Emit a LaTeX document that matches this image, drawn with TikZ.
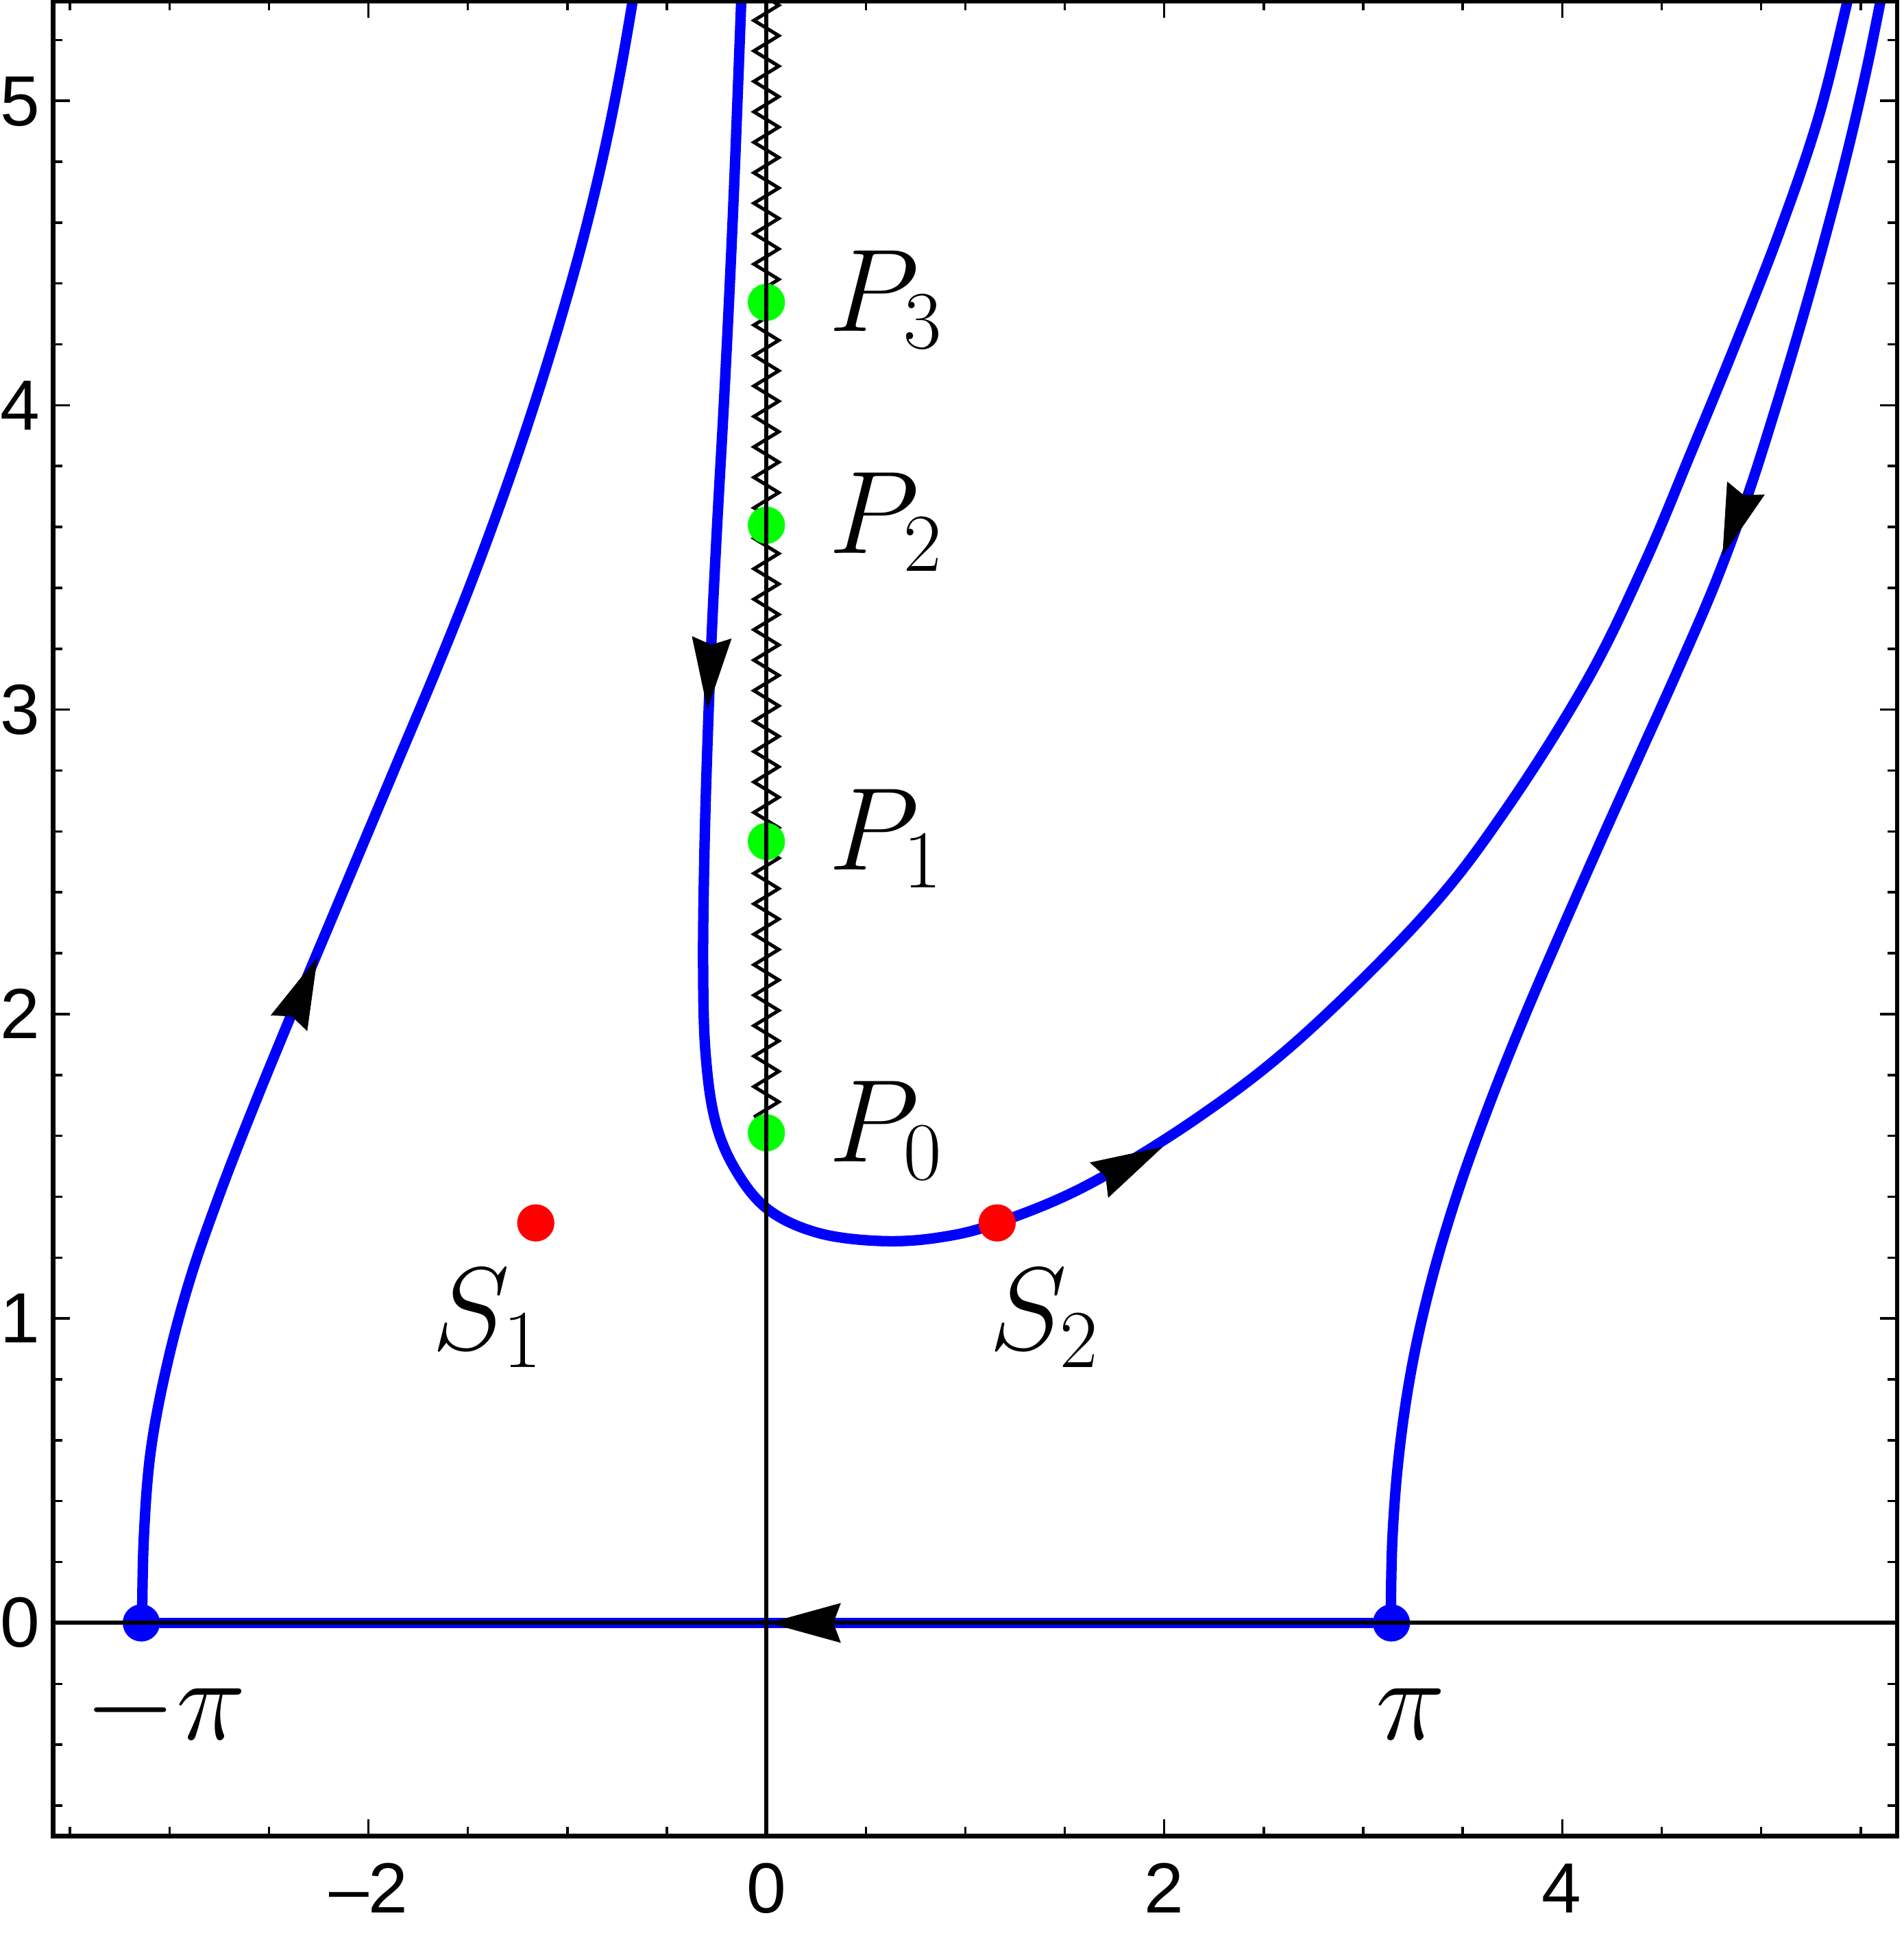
\RequirePackage{fix-cm}
\documentclass[tikz,border=0pt]{standalone}
\usepackage{fontspec}
\newfontfamily\ticksf{Liberation Sans}
\usetikzlibrary{arrows.meta}
\definecolor{cblue}{rgb}{0,0,1}
\definecolor{cgreen}{rgb}{0,1,0}
\definecolor{cred}{rgb}{1,0,0}
\begin{document}
\begin{tikzpicture}[x=0.01cm,y=-0.01cm,
  contour/.style={draw=cblue, line width=2.4pt, line join=round, line cap=round},
  arr/.style={line width=0.1pt, -{Stealth[length=0.58cm,width=0.32cm,inset=0.06cm]}},
  dotnode/.style={circle, inner sep=0pt, minimum size=0.30cm},
  bdot/.style={dotnode, fill=cblue},
  gdot/.style={dotnode, fill=cgreen},
  rdot/.style={dotnode, fill=cred},
  mlabel/.style={inner sep=0pt, anchor=base west, font=\fontsize{27}{30}\selectfont},
  ticklab/.style={inner sep=0pt, font=\ticksf\fontsize{16.3}{18}\selectfont},
  axisline/.style={line width=0.95pt},
  framel/.style={line width=1.05pt},
  tickl/.style={line width=0.55pt},
  zz/.style={line width=0.8pt, line join=miter}
]
\useasboundingbox (0,0) rectangle (1535,1568);

% frame corners in data coordinates
\begin{scope}[shift={(618,1309)}, x=1.6035cm, y=2.454cm]
  \coordinate (FL) at (-3.585,-0.700);
  \coordinate (FR) at (5.683,5.327);
\end{scope}

\begin{scope}
\clip (FL) rectangle (FR);
% curve A (left)
\draw[contour] plot[smooth, tension=0.6] coordinates {
 (114.6,1309) (116,1240) (121.6,1170) (134.9,1100) (153.8,1030) (178.3,960)
 (205.6,890) (234.3,820) (263.7,750) (293.1,680) (322.5,610) (351.9,540)
 (379.9,470) (405.8,400) (429.6,330) (451.3,260) (470.9,190) (487.7,120)
 (501.7,50) (513.6,-20)};
% curve B (middle, through S2)
\draw[contour] plot[smooth, tension=0.6] coordinates {
 (598.5,-20) (595.5,60) (592,150) (588,240) (583.5,330) (578.5,420)
 (574,510) (570.5,600) (568,690) (567,780) (569,850) (577,905) (594,945)
 (620,976) (660,994.5) (711,1001) (758,998) (804,986.5) (877,955.8)
 (966.9,900.7) (1050,836) (1150,736.5) (1215,652) (1280,548.5)
 (1326,454.7) (1363.8,364.7) (1400.7,274.7) (1435.8,184.7) (1466.4,94.7)
 (1488.9,4.7) (1493.8,-20)};
% curve C (right)
\draw[contour] plot[smooth, tension=0.6] coordinates {
 (1121.5,1309) (1122.9,1240) (1128.5,1170) (1139,1100) (1155.1,1030)
 (1176.1,960) (1201.3,890) (1229.3,820) (1259.4,750) (1290.2,680)
 (1321.7,610) (1353.2,540) (1383.3,470) (1409.2,400) (1431.6,330)
 (1452.6,260) (1472.2,190) (1490.4,120) (1506.5,50) (1520.5,-20)};

% zigzag branch cut
\draw[zz] (608,901) foreach \i in {0,...,36} { -- (628,{888.715-24.57*\i}) -- (608,{876.43-24.57*\i}) };

% dots
\begin{scope}[shift={(618,1309)}, x=1.6035cm, y=2.454cm]
  \node[bdot] (Bm) at (-3.14159,0) {};
  \node[bdot] (Bp) at (3.14159,0) {};
  \draw[contour] (Bp) -- (Bm);
  \node[gdot] (P0) at (0,1.610) {};
  \node[gdot] (P1) at (0,2.567) {};
  \node[gdot] (P2) at (0,3.606) {};
  \node[gdot] (P3) at (0,4.338) {};
  \node[rdot] (S1) at (-1.159,1.314) {};
  \node[rdot] (S2) at (1.160,1.314) {};
\end{scope}

% arrowheads
\coordinate (a1b) at (234,823);   \coordinate (a1t) at (256,772);
\coordinate (a2b) at (574,513.5); \coordinate (a2t) at (570.5,572);
\coordinate (a3b) at (886,952);   \coordinate (a3t) at (937.7,925);
\coordinate (a4b) at (1408,393.5);\coordinate (a4t) at (1389,448.5);
\coordinate (a5b) at (675,1309);  \coordinate (a5t) at (620,1309);
\draw[arr] (a1b) -- (a1t);
\draw[arr] (a2b) -- (a2t);
\draw[arr] (a3b) -- (a3t);
\draw[arr] (a4b) -- (a4t);
\draw[arr] (a5b) -- (a5t);
\end{scope}

% axes, ticks, frame
\begin{scope}[shift={(618,1309)}, x=1.6035cm, y=2.454cm]
  \draw[axisline] (-3.585,0) -- (5.683,0);
  \draw[axisline] (0,-0.700) -- (0,5.327);
  \foreach \t in {-2,0,2,4} {
    \draw[tickl] (\t,-0.700) -- ++(0,0.135cm);
    \draw[tickl] (\t,5.327) -- ++(0,-0.135cm);
  }
  \foreach \t in {-3.5,-3,-2.5,-1.5,-1,-0.5,0.5,1,1.5,2.5,3,3.5,4.5,5,5.5} {
    \draw[tickl] (\t,-0.700) -- ++(0,0.074cm);
    \draw[tickl] (\t,5.327) -- ++(0,-0.074cm);
  }
  \foreach \t in {0,...,5} {
    \draw[tickl] (-3.585,\t) -- ++(0.135cm,0);
    \draw[tickl] (5.683,\t) -- ++(-0.135cm,0);
  }
  \foreach \t in {-0.6,-0.4,-0.2,0.2,0.4,0.6,0.8,1.2,1.4,1.6,1.8,2.2,2.4,2.6,2.8,3.2,3.4,3.6,3.8,4.2,4.4,4.6,4.8,5.2} {
    \draw[tickl] (-3.585,\t) -- ++(0.074cm,0);
    \draw[tickl] (5.683,\t) -- ++(-0.074cm,0);
  }
  \draw[framel] (FL) rectangle (FR);
\end{scope}

% tick labels
\foreach \k in {0,...,5} {
  \node[ticklab, anchor=base east] (yl\k) at (33,{1309-245.4*\k+19.5}) {\k};
}
\node[ticklab, anchor=base] (xlm2) at (297.3,1543) {–2};
\node[ticklab, anchor=base] (xl0) at (618,1543) {0};
\node[ticklab, anchor=base] (xl2) at (938.7,1543) {2};
\node[ticklab, anchor=base] (xl4) at (1259.4,1543) {4};

% math labels
\node[mlabel] (lP3) at (668,267) {$P_3$};
\node[mlabel] (lP2) at (668,446.5) {$P_2$};
\node[mlabel] (lP1) at (668,701.5) {$P_1$};
\node[mlabel] (lP0) at (668,937) {$P_0$};
\node[mlabel] (lS1) at (348,1088.5) {$S_1$};
\node[mlabel] (lS2) at (797,1088.7) {$S_2$};
\node[mlabel] (lmpi) at (67.5,1403) {$-\pi$};
\node[mlabel] (lpi) at (1109,1403) {$\pi$};
\end{tikzpicture}
\end{document}
